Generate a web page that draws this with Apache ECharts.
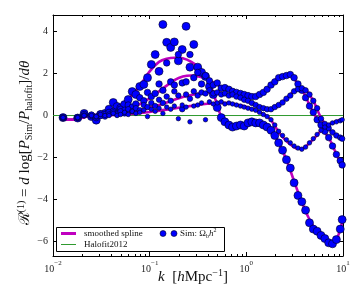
<!DOCTYPE html>
<html><head><meta charset="utf-8">
<script src="https://cdn.jsdelivr.net/npm/echarts@6/dist/echarts.min.js"></script>
<style>html,body{margin:0;padding:0;background:#fff}#c{width:354px;height:295px}</style>
</head><body><div id="c"></div>
<script>
// ---- data ----
const k = [0.0127,0.018,0.021,0.025,0.028,0.031,0.0345,0.038,0.042,0.046,
  0.05,0.055,0.06,0.066,0.072,0.079,0.087,0.095,0.104,0.114,
  0.125,0.137,0.15,0.165,0.18,0.198,0.217,0.238,0.261,0.286,
  0.314,0.344,0.378,0.415,0.455,0.5,0.55,0.6,0.66,0.72,
  0.79,0.87,0.95,1.04,1.14,1.25,1.37,1.5,1.64,1.8,
  1.97,2.16,2.37,2.6,2.85,3.12,3.42,3.75,4.1,4.5,
  4.93,5.4,5.92,6.49,7.11,7.79,8.54,9.36,9.8];
const simA = [-0.1,-0.12,0.1,-0.05,-0.22,0.05,0.1,0.3,0.62,0.43,
  0.35,0.52,0.76,1.14,1.0,1.38,1.48,1.8,2.43,2.9,
  2.1,4.33,3.48,3.24,3.5,2.6,3.14,4.24,2.3,3.38,
  2.3,2.05,1.86,1.38,1.0,0.38,-0.1,-0.3,-0.45,-0.55,
  -0.5,-0.45,-0.5,-0.35,-0.3,-0.35,-0.35,-0.45,-0.55,-0.7,
  -0.95,-1.3,-1.65,-2.1,-2.5,-3.2,-3.8,-4.1,-4.5,-5.1,
  -5.4,-5.5,-5.7,-5.85,-6.05,-6.1,-5.9,-5.4,-4.95];
const simB = [-0.1,-0.1,0.05,0.0,-0.1,0.0,0.05,0.15,0.2,0.1,
  0.3,0.25,0.5,0.4,0.55,0.85,0.7,1.1,0.9,1.05,
  1.5,1.2,2.5,1.6,1.45,2.9,1.55,1.6,2.9,1.8,
  2.05,1.5,1.9,1.65,1.45,1.55,1.3,1.33,1.25,1.15,
  1.1,1.05,1.0,0.95,0.9,0.9,1.0,1.1,1.25,1.45,
  1.6,1.8,1.85,1.9,1.95,1.8,1.5,1.2,0.85,0.45,
  0.15,-0.2,-0.45,-0.75,-1.05,-1.45,-1.85,-2.15,-2.35];
const simC = [-0.1,-0.1,0.0,0.05,-0.05,0.1,-0.05,0.05,0.15,0.05,
  0.2,0.1,0.3,0.2,0.35,0.25,0.5,0.4,0.6,0.45,
  0.75,0.6,0.9,0.7,1.15,0.95,0.3,1.0,0.8,1.15,
  0.95,1.1,1.05,1.2,1.05,1.1,1.0,1.05,0.95,1.0,
  0.9,0.85,0.75,0.7,0.6,0.5,0.4,0.35,0.3,0.3,
  0.4,0.5,0.62,0.8,0.95,1.15,1.25,1.3,1.2,1.0,
  0.7,0.35,-0.15,-0.4,-0.6,-0.8,-0.95,-1.05,-1.1];
const simD = [-0.1,-0.1,0.0,0.0,-0.05,0.05,0.0,0.0,0.1,0.0,
  0.05,0.15,0.05,0.2,0.1,0.15,0.25,-0.05,0.3,0.2,
  0.35,0.1,0.4,0.3,0.45,-0.15,0.5,0.4,-0.3,0.45,
  0.5,0.6,-0.2,0.65,0.55,0.6,0.65,0.55,0.6,0.55,
  0.5,0.45,0.4,0.35,0.3,0.25,0.15,0.05,-0.05,-0.2,
  -0.45,-0.75,-0.95,-1.15,-1.3,-1.45,-1.55,-1.6,-1.5,-1.3,
  -1.1,-0.9,-0.7,-0.55,-0.45,-0.35,-0.3,-0.25,-0.2];

const splineK = [0.012,0.014,0.017,0.02,0.025,0.03,0.04,0.05,0.065,0.08,
  0.1,0.125,0.15,0.18,0.22,0.27,0.33,0.4,0.48,0.57,
  0.68,0.8,0.95,1.1,1.3,1.5,1.75,2.0,2.3,2.65,
  3.0,3.4,3.9,4.4,5.0,5.7,6.5,7.3,8.2,9.1,10];
const splineA = [-0.1,-0.2,-0.2,-0.1,0.0,0.05,0.25,0.5,0.95,1.45,
  2.1,2.55,2.7,2.75,2.72,2.55,2.25,1.75,0.75,-0.2,
  -0.45,-0.45,-0.4,-0.35,-0.35,-0.45,-0.65,-1.0,-1.55,-2.2,
  -2.9,-3.6,-4.3,-4.85,-5.3,-5.65,-5.9,-6.05,-6.0,-5.6,-4.9];
const splineB = [-0.1,-0.2,-0.2,-0.1,0.0,0.02,0.1,0.2,0.35,0.55,
  0.82,1.15,1.42,1.68,1.85,1.9,1.85,1.72,1.52,1.32,
  1.15,1.05,0.95,0.9,0.95,1.1,1.4,1.7,1.88,1.95,
  1.85,1.5,1.1,0.6,0.1,-0.35,-0.8,-1.15,-1.65,-2.1,-2.4];
const splineC = [-0.1,-0.2,-0.2,-0.1,0.0,0.0,0.05,0.1,0.17,0.25,
  0.37,0.5,0.62,0.75,0.88,0.98,1.05,1.1,1.1,1.05,
  0.98,0.9,0.78,0.62,0.47,0.36,0.3,0.38,0.6,0.85,
  1.1,1.25,1.3,1.05,0.65,0.05,-0.4,-0.7,-0.9,-1.05,-1.12];
const splineD = [-0.1,-0.2,-0.2,-0.1,0.0,0.0,0.02,0.05,0.08,0.12,
  0.17,0.23,0.28,0.34,0.4,0.46,0.52,0.56,0.59,0.6,
  0.58,0.52,0.44,0.34,0.22,0.07,-0.15,-0.55,-0.95,-1.25,
  -1.45,-1.58,-1.55,-1.35,-1.1,-0.8,-0.55,-0.4,-0.3,-0.22,-0.18];

const halofitK = [0.01, 10];
const halofitR = [0, 0];

// ---- chart ----
const SERIF = '"Liberation Serif", "DejaVu Serif", serif';
const BLUE = '#0000ff', MAG = '#bf00bf', GREEN = '#2f9a2f';
const zip = (xs, ys) => xs.map((x, i) => [x, ys[i]]);
const minorK = [];
for (let e = -2; e < 1; e++) for (let m = 2; m < 10; m++) minorK.push(m * Math.pow(10, e));

const chart = echarts.init(document.getElementById('c'), null, {renderer: 'canvas'});

const frameAxis = {
  axisLine: {show: true, onZero: false, lineStyle: {color: '#000', width: 1}},
  axisTick: {show: true, inside: true, length: 4, lineStyle: {color: '#000', width: 1}},
  splitLine: {show: false}
};

function scatter(data, size) {
  return {type: 'scatter', data: data, symbol: 'circle', symbolSize: size, z: 3,
    itemStyle: {color: BLUE, borderColor: '#000022', borderWidth: 0.6, opacity: 1},
    emphasis: {disabled: true}, silent: true};
}
function spline(data) {
  return {type: 'line', data: data, showSymbol: false, smooth: 0.35, z: 2,
    lineStyle: {color: MAG, width: 2.6}, emphasis: {disabled: true}, silent: true};
}

const option = {
  animation: false,
  backgroundColor: '#fff',
  grid: {left: 53, right: 11, top: 15, bottom: 39},
  xAxis: [
    Object.assign({type: 'log', logBase: 10, min: 0.01, max: 10, position: 'bottom',
      axisLabel: {margin: 4,
        formatter: v => { const e = Math.round(Math.log10(v)); return '{b|10}{s|' + (e < 0 ? '\u2212' + (-e) : e) + '}'; },
        rich: {b: {fontFamily: SERIF, fontSize: 10, color: '#222', lineHeight: 14, verticalAlign: 'bottom'},
               s: {fontFamily: SERIF, fontSize: 7, color: '#222', lineHeight: 8, verticalAlign: 'top'}}}}, frameAxis),
    Object.assign({type: 'log', logBase: 10, min: 0.01, max: 10, position: 'top', axisLabel: {show: false}}, frameAxis)
  ],
  yAxis: [
    Object.assign({type: 'value', min: -6.68, max: 4.78, splitNumber: 5, position: 'left',
      axisLabel: {margin: 5, showMinLabel: false, showMaxLabel: false, fontFamily: SERIF, fontSize: 10, color: '#222',
        formatter: v => { const r = Math.round(v); return (Math.abs(v - r) < 1e-6 && r % 2 === 0) ? String(r).replace('-', '\u2212') : ''; }}}, frameAxis),
    Object.assign({type: 'value', min: -6.68, max: 4.78, splitNumber: 5, position: 'right', axisLabel: {show: false}}, frameAxis)
  ],
  series: [
    {type: 'line', data: zip(halofitK, halofitR), showSymbol: false, z: 1,
      lineStyle: {color: GREEN, width: 1}, silent: true},
    spline(zip(splineK, splineA)),
    spline(zip(splineK, splineB)),
    spline(zip(splineK, splineC)),
    spline(zip(splineK, splineD)),
    scatter(zip(k, simA), 8),
    scatter(zip(k, simB), 6.5),
    scatter(zip(k, simC), 5.5),
    scatter(zip(k, simD), 4.5),
    {type: 'custom', silent: true, z: 6, data: minorK.map(v => [v, 0]),
      encode: {x: 0, y: 1},
      renderItem: (params, api) => {
        const cs = params.coordSys;
        const x = Math.round(api.coord([api.value(0), 0])[0]) + 0.5;
        const yb = cs.y + cs.height, yt = cs.y;
        return {type: 'group', children: [
          {type: 'line', shape: {x1: x, y1: yb, x2: x, y2: yb - 2}, style: {stroke: '#000', lineWidth: 1}},
          {type: 'line', shape: {x1: x, y1: yt, x2: x, y2: yt + 2}, style: {stroke: '#000', lineWidth: 1}}
        ]};
      }}
  ],
  graphic: [
    // y-axis title
    {type: 'text', x: 25, y: 143, rotation: Math.PI / 2, z: 100,
      style: {text: '{m|\u211B}{sp|(1)}{m| = }{i|d}{m| log[}{i|P}{sb|Sim}{m|/}{i|P}{sb|halofit}{m|]/}{i|d\u03B8}',
        align: 'center', verticalAlign: 'middle',
        rich: {m: {fontFamily: SERIF, fontSize: 15, lineHeight: 18, fill: '#111'},
               i: {fontFamily: SERIF, fontSize: 15, lineHeight: 18, fontStyle: 'italic', fill: '#111'},
               sp: {fontFamily: SERIF, fontSize: 10, lineHeight: 10, verticalAlign: 'top', fill: '#111'},
               sb: {fontFamily: SERIF, fontSize: 10, lineHeight: 10, verticalAlign: 'bottom', fill: '#111'}}}},
    // x-axis title
    {type: 'text', x: 193, y: 277, z: 100,
      style: {text: '{i|k}{m|  [}{i|h}{m|Mpc}{sp|\u22121}{m|]}',
        align: 'center', verticalAlign: 'middle',
        rich: {m: {fontFamily: SERIF, fontSize: 15, lineHeight: 18, fill: '#111'},
               i: {fontFamily: SERIF, fontSize: 15, lineHeight: 18, fontStyle: 'italic', fill: '#111'},
               sp: {fontFamily: SERIF, fontSize: 10, lineHeight: 10, verticalAlign: 'top', fill: '#111'}}}},
    // legend
    {type: 'rect', z: 100, shape: {x: 56.5, y: 227.5, width: 168, height: 24},
      style: {fill: '#fff', stroke: '#000', lineWidth: 1}},
    {type: 'line', z: 101, shape: {x1: 61, y1: 233.5, x2: 76, y2: 233.5}, style: {stroke: MAG, lineWidth: 3}},
    {type: 'text', z: 101, x: 84, y: 233.5, style: {text: 'smoothed spline', fontFamily: SERIF, fontSize: 9, fill: '#111', verticalAlign: 'middle'}},
    {type: 'line', z: 101, shape: {x1: 61, y1: 244.5, x2: 76, y2: 244.5}, style: {stroke: GREEN, lineWidth: 1}},
    {type: 'text', z: 101, x: 84, y: 244.5, style: {text: 'Halofit2012', fontFamily: SERIF, fontSize: 9, fill: '#111', verticalAlign: 'middle'}},
    {type: 'circle', z: 101, shape: {cx: 163, cy: 233.5, r: 3}, style: {fill: BLUE, stroke: '#000022', lineWidth: 0.6}},
    {type: 'circle', z: 101, shape: {cx: 174, cy: 233.5, r: 3}, style: {fill: BLUE, stroke: '#000022', lineWidth: 0.6}},
    {type: 'text', z: 101, x: 180, y: 233.5,
      style: {text: '{t|Sim: \u03A9}{sb|b}{i|h}{sp|2}', verticalAlign: 'middle',
        rich: {t: {fontFamily: SERIF, fontSize: 9, lineHeight: 12, fill: '#111'},
               i: {fontFamily: SERIF, fontSize: 9, lineHeight: 12, fontStyle: 'italic', fill: '#111'},
               sb: {fontFamily: SERIF, fontSize: 6, lineHeight: 7, verticalAlign: 'bottom', fill: '#111'},
               sp: {fontFamily: SERIF, fontSize: 6, lineHeight: 7, verticalAlign: 'top', fill: '#111'}}}}
  ]
};
chart.setOption(option);
</script>
</body></html>
